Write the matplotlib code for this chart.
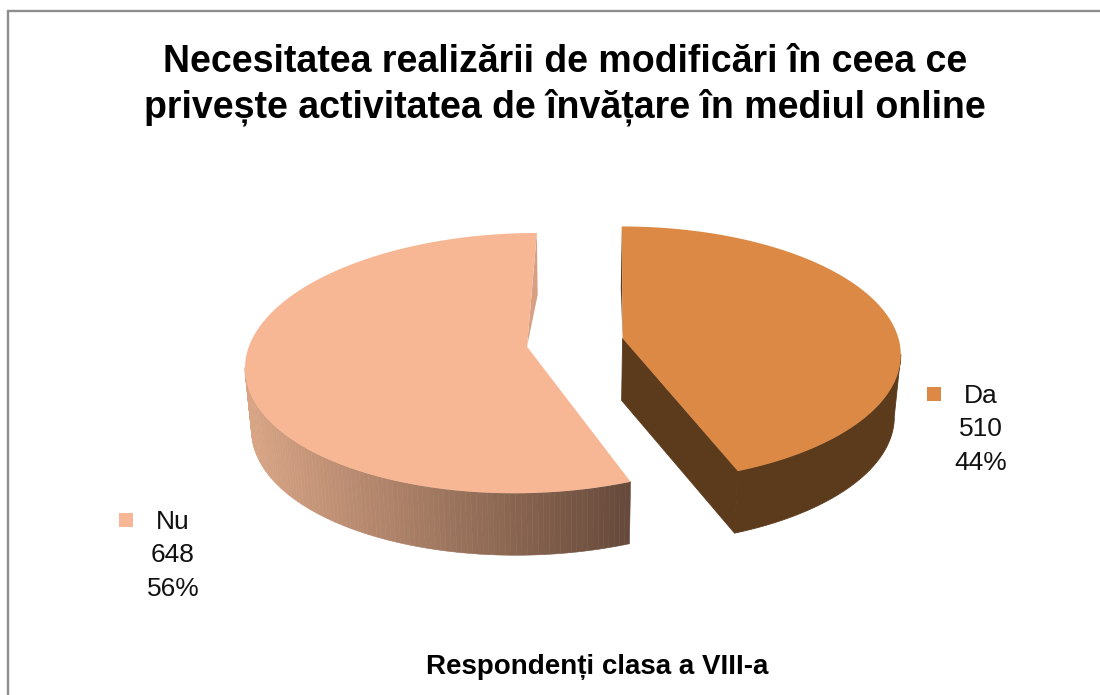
"""
3D exploded pie for the Romanian survey chart
"""
import numpy as np
import matplotlib
matplotlib.use('Agg')
import matplotlib.pyplot as plt
from matplotlib.collections import PolyCollection
from matplotlib.colors import to_rgb

# Data
labels = ['Da', 'Nu']
counts = [510, 648]
percents = ['44%', '56%']
top_colors = ['#DB8944', '#F7B794']
title = 'Necesitatea realizării de modificări în ceea ce\nprivește activitatea de învățare în mediul online'
xlabel = 'Respondenți clasa a VIII-a'

# Projection of the tilted pie, in pixels
cx, cy = 575.0, 342.5
A, B = 277.0, 127.0
k = 0.126         # perspective
shift = 40.0      # vanishing point offset in x
explode = 0.175
depth = 62.0
shrink = 0.98     # lower face is a bit narrower


def project(u, v):
    w = 1 + k*v
    return cx + shift + (A*u - shift)/w, cy - B*v/w


def lower(x):
    return cx + (x - cx)*shrink


def slice_points(a0, a1, n=200):
    # plane coords of the outer arc, angles clockwise from top
    mid = (a0 + a1)/2
    du, dv = explode*np.sin(mid), explode*np.cos(mid)
    a = np.linspace(a0, a1, n)
    return np.sin(a) + du, np.cos(a) + dv, du, dv


fig = plt.figure(figsize=(11, 6.95), dpi=100)
ax = fig.add_axes([0, 0, 1, 1])
ax.set_xlim(0, 1100)
ax.set_ylim(695, 0)
ax.axis('off')

# Frame, only top and left are inside the picture
ax.plot([8, 8, 1100], [695, 11, 11], color='#8E8E8E', lw=1.7, solid_joinstyle='miter')

fractions = np.array(counts)/np.sum(counts)
edges = np.concatenate([[0], np.cumsum(fractions)])*2*np.pi

# Da slice
u, v, du, dv = slice_points(edges[0], edges[1])
x, y = project(u, v)
px, py = project(du, dv)
wall = '#5C3A1C'
ax.fill([x[0], lower(x[0]), px], [y[0], y[0]+depth, py], color=wall, lw=0)
# cut face, then the outer wall from the right-most point of the arc
ax.fill([px, x[-1], lower(x[-1]), lower(px)], [py, y[-1], y[-1]+depth, py+depth],
        facecolor=wall, edgecolor=wall, lw=0.6)
i0 = np.argmax(x)
ax.fill(np.r_[x[i0:], lower(x[i0:][::-1])], np.r_[y[i0:], y[i0:][::-1]+depth],
        facecolor=wall, edgecolor=wall, lw=0.6)
ax.fill(np.r_[px, x], np.r_[py, y], color=top_colors[0], lw=0)

# Nu slice
u, v, du, dv = slice_points(edges[1], edges[2])
x, y = project(u, v)
px, py = project(du, dv)
# inner cut face
ax.fill([x[-1], lower(x[-1]), px], [y[-1], y[-1]+depth, py], color='#D8A082', lw=0)
# outer wall with gradient, lit on the left
light = np.array(to_rgb('#D9A585'))
dark = np.array(to_rgb('#66493A'))
xl = lower(x)
i1 = np.argmin(x)
xmin, xmax = xl.min(), xl[0]
quads, cols = [], []
for i in range(i1):
    quads.append([(x[i], y[i]), (x[i+1], y[i+1]), (xl[i+1], y[i+1]+depth), (xl[i], y[i]+depth)])
    t = np.clip((0.5*(xl[i]+xl[i+1]) - xmin)/(xmax - xmin), 0, 1)
    cols.append(light*(1-t) + dark*t)
ax.add_collection(PolyCollection(quads, facecolors=cols, edgecolors=cols, linewidths=0.4))
ax.fill(np.r_[px, x], np.r_[py, y], color=top_colors[1], lw=0)

# Texts
ax.text(565, 85, title, ha='center', va='center', fontsize=27, fontweight='bold',
        family='Liberation Sans', color='black', linespacing=1.29)
ax.text(597, 667, xlabel, ha='center', va='center', fontsize=20, fontweight='bold',
        family='Liberation Sans', color='black')

# Data labels
label_x = [981, 173]
label_y = [394, 520]
marker_x = [934, 126]
for i in range(2):
    txt = labels[i] + '\n' + str(counts[i]) + '\n' + percents[i]
    ax.text(label_x[i], label_y[i] - 10, txt, ha='center', va='top', fontsize=19,
            family='Liberation Sans', color='#111111', linespacing=1.49)
    ax.plot(marker_x[i], label_y[i], marker='s', ms=10.5, color=top_colors[i], mew=0)

fig.savefig('out.png', dpi=100)
